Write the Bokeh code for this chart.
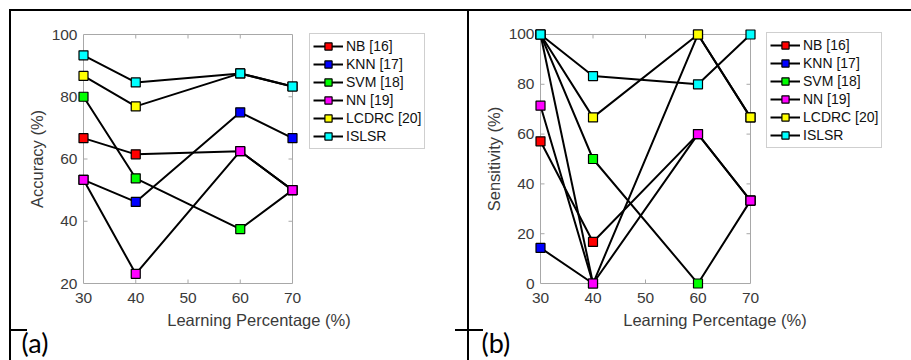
from bokeh.plotting import figure
from bokeh.models import Range1d, Legend, LegendItem, FixedTicker, Title
from bokeh.layouts import row
from bokeh.embed import file_html
from bokeh.resources import INLINE

# ---------------- data ----------------
learning_pct = [30, 40, 60, 70]
x_ticks = [30, 40, 50, 60, 70]
acc_ticks = [20, 40, 60, 80, 100]
sens_ticks = [0, 20, 40, 60, 80, 100]
methods = ["NB [16]", "KNN [17]", "SVM [18]", "NN [19]", "LCDRC [20]", "ISLSR"]
colors = ["#ff0000", "#0000ff", "#00ff00", "#ff00ff", "#ffff00", "#00ffff"]

acc_nb = [66.7, 61.5, 62.5, 50.0]
acc_knn = [53.3, 46.2, 75.0, 66.7]
acc_svm = [80.0, 53.8, 37.5, 50.0]
acc_nn = [53.3, 23.1, 62.5, 50.0]
acc_lcdrc = [86.7, 76.9, 87.5, 83.3]
acc_islsr = [93.3, 84.6, 87.5, 83.3]

sens_nb = [57.1, 16.7, 60.0, 33.3]
sens_knn = [14.3, 0.0, 100.0, 66.7]
sens_svm = [100.0, 50.0, 0.0, 33.3]
sens_nn = [71.4, 0.0, 60.0, 33.3]
sens_lcdrc = [100.0, 66.7, 100.0, 66.7]
sens_islsr = [100.0, 83.3, 80.0, 100.0]
# an extra connecting line visible in panel (b) with no legend entry
sens_unlisted_x = [30, 40]
sens_unlisted_y = [100.0, 0.0]

acc_series = [acc_nb, acc_knn, acc_svm, acc_nn, acc_lcdrc, acc_islsr]
sens_series = [sens_nb, sens_knn, sens_svm, sens_nn, sens_lcdrc, sens_islsr]
tags = ["(a)", "(b)"]

FONT = "Liberation Sans"
TEXT_C = "#3a3a3a"
BOX_C = "#a8a8a8"
PAD = 6        # px of range padding so edge markers are not clipped
TICK = 4       # px tick length (inward)
CH = 360       # chart canvas height
TOP = 28       # canvas y of the padded frame top
LEG_H = 114    # legend height in px


def panel(series, y_lo, y_hi, yticks, ylabel, width, left, box_w, box_h,
          extra_w, legend_dx, tag, tag_dx, extra_lines=()):
    # frame = padded axes box + room on the right that holds the legend
    frame_w = box_w + PAD + extra_w
    frame_h = box_h + 2 * PAD
    ux = (x_ticks[-1] - x_ticks[0]) / box_w      # data units per px
    uy = (y_hi - y_lo) / box_h
    p = figure(width=width, height=CH, output_backend="svg",
               toolbar_location=None,
               x_range=Range1d(x_ticks[0] - PAD * ux, x_ticks[-1] + extra_w * ux),
               y_range=Range1d(y_lo - PAD * uy, y_hi + PAD * uy),
               min_border_left=left, min_border_top=TOP,
               min_border_right=width - left - frame_w,
               min_border_bottom=CH - TOP - frame_h)
    p.outline_line_color = None
    p.border_fill_color = None
    p.grid.visible = False

    for ax in (p.xaxis[0], p.yaxis[0]):
        ax.axis_line_color = None
        ax.major_tick_in = 0
        ax.major_tick_out = 0
        ax.major_tick_line_color = None
        ax.minor_tick_line_color = None
        ax.major_label_text_font = FONT
        ax.major_label_text_font_size = "15.5px"
        ax.major_label_text_color = TEXT_C
        ax.axis_label_text_font = FONT
        ax.axis_label_text_font_size = "16.5px"
        ax.axis_label_text_font_style = "normal"
        ax.axis_label_text_color = TEXT_C
    p.xaxis.ticker = FixedTicker(ticks=x_ticks)
    p.xaxis.bounds = (x_ticks[0], x_ticks[-1])
    p.yaxis.ticker = FixedTicker(ticks=yticks)
    p.xaxis.axis_label = "Learning Percentage (%)"
    p.yaxis.axis_label = ylabel
    p.xaxis.major_label_standoff = 3
    p.xaxis.axis_label_standoff = 5
    p.yaxis.major_label_standoff = 0
    p.yaxis.axis_label_standoff = 3

    # axes box and inward tick marks, from the tick arrays
    p.quad(left=[x_ticks[0]], right=[x_ticks[-1]], bottom=[y_lo], top=[y_hi],
           fill_color=None, line_color=BOX_C, line_width=1)
    inner = x_ticks[1:-1]
    p.segment(x0=inner, x1=inner, y0=[y_lo] * len(inner),
              y1=[y_lo + TICK * uy] * len(inner), line_color=BOX_C)
    p.segment(x0=inner, x1=inner, y0=[y_hi] * len(inner),
              y1=[y_hi - TICK * uy] * len(inner), line_color=BOX_C)
    yin = yticks[1:-1]
    p.segment(x0=[x_ticks[0]] * len(yin), x1=[x_ticks[0] + TICK * ux] * len(yin),
              y0=yin, y1=yin, line_color=BOX_C)
    p.segment(x0=[x_ticks[-1]] * len(yin), x1=[x_ticks[-1] - TICK * ux] * len(yin),
              y0=yin, y1=yin, line_color=BOX_C)

    for ex, ey in extra_lines:
        p.line(ex, ey, line_color="black", line_width=2)

    items = []
    line_rs = []
    for name, ys in zip(methods, series):
        lr = p.line(learning_pct, ys, line_color="black", line_width=2)
        line_rs.append((name, lr))
    for (name, lr), col, ys in zip(line_rs, colors, series):
        sr = p.scatter(learning_pct, ys, marker="square", size=9,
                       fill_color=col, line_color="black", line_width=1.2)
        items.append(LegendItem(label=name, renderers=[lr, sr]))

    leg = Legend(items=items, location=(legend_dx, frame_h - PAD - 1 - LEG_H),
                 border_line_color="#a0a0a0", border_line_width=1,
                 background_fill_color="white", background_fill_alpha=1,
                 label_text_font=FONT, label_text_font_size="14px",
                 label_text_color="#111111", glyph_width=30, glyph_height=18,
                 label_height=18, spacing=0, padding=3, margin=0,
                 label_standoff=3)
    p.add_layout(leg)

    p.add_layout(Title(text=tag, align="left", offset=tag_dx, standoff=-12,
                       vertical_align="top", text_font="Lato",
                       text_font_size="27px", text_font_style="normal",
                       text_color="black"), "below")
    return p


# frame px: A 77..440 (box 83..292), B 534..895 (box 540..750)
pa = panel(acc_series, 20, 100, acc_ticks, "Accuracy (%)", 467, 77, 209, 249,
           148, 232, tags[0], -56)
pb = panel(sens_series, 0, 100, sens_ticks, "Sensitivity (%)", 444, 67, 210, 250,
           145, 232, tags[1], -53,
           extra_lines=[(sens_unlisted_x, sens_unlisted_y)])

# table rules of the surrounding document, painted behind the two charts
rules = [  # (x, y, w, h) in px
    (9, 9, 902, 2), (9, 9, 2, 351), (467, 9, 2, 351),
    (10, 329, 17, 2), (455, 329, 28, 2),
]
css = {
    "background-image": ", ".join(["linear-gradient(#000, #000)"] * len(rules)),
    "background-repeat": "no-repeat",
    "background-size": ", ".join(f"{w}px {h}px" for x, y, w, h in rules),
    "background-position": ", ".join(f"{x}px {y}px" for x, y, w, h in rules),
}
layout = row(pa, pb, styles=css)
open("out.html", "w").write(file_html(layout, INLINE))
